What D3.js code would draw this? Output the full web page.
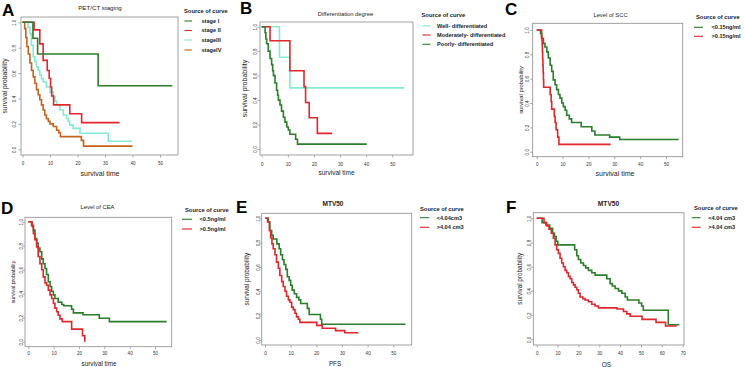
<!DOCTYPE html>
<html>
<head>
<meta charset="utf-8">
<script src="https://cdn.jsdelivr.net/npm/d3@7"></script>
<style>
  body { margin: 0; background: #fff; }
  svg { display: block; }
</style>
</head>
<body>
<script>
// ---- data: Kaplan-Meier steps as [time, survival] ----
// A: PET/CT staging
const stageI = [[0,1],[3.8,0.875],[5.5,0.75],[27.5,0.5],[54.5,0.5]];
const stageII = [[0,1],[4.2,0.94],[6.3,0.83],[7.5,0.70],[9,0.62],[9.7,0.56],[10.2,0.49],[10.6,0.42],[11.3,0.35],[17.2,0.28],[21.5,0.21],[35.3,0.21]];
const stageIII = [[0,1],[2,0.96],[2.7,0.91],[3.2,0.82],[3.9,0.73],[4.5,0.69],[5.1,0.65],[5.7,0.62],[6.3,0.585],[6.9,0.555],[7.5,0.53],[8.7,0.49],[10,0.45],[11.2,0.415],[11.8,0.38],[12.4,0.35],[13.6,0.31],[14.8,0.27],[16,0.245],[16.6,0.22],[17.2,0.19],[18.4,0.165],[20.9,0.126],[31.2,0.063],[39.7,0.063]];
const stageIV = [[0,1],[0.8,0.95],[1.2,0.88],[1.6,0.81],[2.1,0.75],[2.7,0.68],[3.3,0.62],[3.9,0.57],[4.5,0.52],[5.1,0.47],[5.7,0.43],[6.3,0.39],[6.9,0.35],[7.5,0.31],[8.1,0.27],[8.7,0.24],[9.4,0.22],[10,0.20],[11.2,0.18],[12.4,0.15],[13.2,0.13],[13.8,0.10],[21.4,0.07],[22.2,0.025],[40,0.025]];

// B: differentiation degree
const wellDiff = [[0,1],[6.8,0.75],[10.8,0.5],[54.6,0.5]];
const modDiff = [[0,1],[3.2,0.885],[10.8,0.64],[16.2,0.51],[16.8,0.38],[18.2,0.255],[21.3,0.128],[27,0.128]];
const poorDiff = [[0,1],[1.3,0.95],[1.6,0.90],[1.9,0.86],[2.5,0.80],[3.2,0.74],[3.8,0.69],[4.2,0.64],[4.5,0.60],[5.1,0.54],[5.7,0.48],[6.1,0.44],[6.4,0.40],[7,0.36],[7.6,0.31],[8.3,0.26],[8.9,0.22],[9.6,0.18],[10.2,0.155],[10.8,0.12],[13,0.08],[13.7,0.04],[40.2,0.04]];

// C: level of SCC
const sccLow = [[0,1],[1.5,0.97],[1.9,0.93],[2.6,0.89],[3.2,0.86],[3.9,0.82],[4.5,0.77],[5.2,0.71],[5.8,0.66],[6.4,0.59],[7.1,0.55],[7.7,0.51],[8.4,0.47],[9,0.44],[9.7,0.40],[10.3,0.37],[11,0.34],[11.6,0.30],[12.6,0.27],[13.5,0.24],[17.2,0.205],[21.3,0.17],[22.5,0.137],[28.2,0.12],[32.1,0.10],[54.9,0.10]];
const sccHigh = [[0,1],[1.9,0.94],[2.1,0.88],[2.2,0.82],[2.3,0.76],[2.4,0.71],[2.5,0.65],[2.6,0.59],[2.7,0.53],[5.2,0.47],[5.6,0.41],[5.8,0.35],[6.8,0.29],[7.1,0.24],[7.5,0.18],[8.1,0.12],[8.6,0.06],[28.6,0.06]];

// D: level of CEA
const ceaLow = [[0,1],[1.3,0.97],[2,0.93],[2.6,0.86],[3.3,0.82],[3.9,0.78],[4.6,0.75],[5.3,0.69],[5.9,0.65],[6.6,0.61],[7.2,0.56],[7.9,0.50],[8.6,0.46],[9.2,0.42],[9.9,0.39],[10.5,0.36],[11.8,0.33],[13.2,0.31],[14,0.30],[17.1,0.27],[17.8,0.24],[21.6,0.225],[28,0.195],[32,0.167],[54.6,0.167]];
const ceaHigh = [[0,1],[1.5,0.96],[2,0.90],[2.6,0.85],[3.3,0.79],[3.9,0.71],[4.6,0.65],[5.3,0.60],[5.9,0.54],[6.6,0.49],[7.2,0.47],[7.9,0.43],[8.6,0.39],[9.2,0.36],[9.9,0.32],[10.5,0.28],[11.2,0.25],[11.8,0.22],[12.5,0.19],[13.4,0.167],[17.1,0.105],[21.4,0.05],[22.3,0.0]];

// E: MTV50 (PFS)
const pfsLow = [[0,1],[1.3,0.97],[1.9,0.90],[2.6,0.86],[3.2,0.83],[4.6,0.79],[5.5,0.75],[6.1,0.70],[6.8,0.66],[7.4,0.62],[8.1,0.58],[8.7,0.52],[9.4,0.49],[10,0.45],[10.6,0.41],[11.4,0.38],[12.3,0.35],[13.2,0.33],[13.9,0.30],[16.5,0.26],[17.2,0.21],[21.6,0.17],[22.1,0.13],[54.8,0.13]];
const pfsHigh = [[0,1],[1,0.97],[1.7,0.90],[2.2,0.84],[2.7,0.79],[3.2,0.75],[3.9,0.70],[4.5,0.64],[5.2,0.59],[5.8,0.53],[6.5,0.48],[7.1,0.44],[7.8,0.40],[8.4,0.36],[9.1,0.33],[9.7,0.31],[10.4,0.27],[11,0.25],[11.7,0.22],[12.3,0.19],[13,0.17],[13.6,0.145],[20.2,0.12],[22.3,0.096],[27.5,0.077],[31.1,0.06],[36.4,0.06]];

// F: MTV50 (OS)
const osLow = [[0,1],[2.6,0.964],[4.4,0.945],[6.2,0.917],[7.6,0.876],[8.5,0.85],[9.3,0.81],[10.1,0.78],[18.2,0.74],[19.2,0.69],[20,0.66],[21.1,0.63],[22.4,0.61],[23.5,0.59],[24.8,0.57],[26.4,0.55],[28,0.53],[33.6,0.50],[35.2,0.46],[36.3,0.44],[37.6,0.42],[39.2,0.40],[40.8,0.38],[42.4,0.35],[43.5,0.325],[49,0.30],[50.3,0.275],[51.1,0.24],[63.1,0.12],[68.4,0.12]];
const osHigh = [[0,1],[3.5,0.964],[4.8,0.937],[5.9,0.91],[7,0.876],[8,0.835],[8.8,0.78],[9.6,0.74],[10.4,0.71],[11.2,0.67],[12,0.63],[12.8,0.60],[13.6,0.57],[14.4,0.55],[15.2,0.52],[16,0.50],[16.8,0.47],[17.6,0.45],[18.4,0.43],[19.2,0.41],[20,0.38],[20.8,0.35],[22.1,0.336],[23.2,0.325],[24.8,0.31],[26.4,0.29],[28,0.275],[29.6,0.26],[38.5,0.25],[41.6,0.23],[43.2,0.21],[44.8,0.19],[50.5,0.165],[57.2,0.14],[61.8,0.11],[67.1,0.11]];

const xTicks50 = [0, 10, 20, 30, 40, 50];
const xTicks70 = [0, 10, 20, 30, 40, 50, 60, 70];
const yTicks = [0, 0.2, 0.4, 0.6, 0.8, 1.0];

const GREEN = "#2a7d2a", RED = "#e2262b", CYAN = "#85ead4", ORANGE = "#c5621e";

// ---- layout of the six panels ----
const panels = [
  { letter: "A", lx: 2, ly: 15.5, title: "PET/CT staging", titleX: 100, titleY: 10, titleSize: 6.2, titleBold: false,
    box: [21, 17, 178, 155], xr: [22.5, 160], yr: [149.3, 22.3], xMax: 50, xTicks: xTicks50,
    xlab: "survival time", xlabX: 100, xlabY: 175.5, xlabSize: 7, ylabX: 5, ylabSize: 6.7, ytX: 14, xtY: 164.5,
    legend: { x: 184, ty: 13, lx0: 184.5, lx1: 192, tx: 201.5, ys: [21, 30.5, 40, 50] },
    series: [{ name: "stage I", data: stageI, color: GREEN }, { name: "stage II", data: stageII, color: RED },
             { name: "stageIII", data: stageIII, color: CYAN }, { name: "stageIV", data: stageIV, color: ORANGE }],
    order: [2, 3, 1, 0] },
  { letter: "B", lx: 240, ly: 13.5, title: "Differentiation degree", titleX: 345.5, titleY: 16, titleSize: 5.8, titleBold: false,
    box: [260, 22, 413, 155], xr: [261.7, 392.3], yr: [149, 26.7], xMax: 50, xTicks: xTicks50,
    xlab: "survival time", xlabX: 336.5, xlabY: 174.5, xlabSize: 6.5, ylabX: 245, ylabSize: 7, ytX: 255, xtY: 166,
    legend: { x: 421.5, ty: 17, lx0: 422.5, lx1: 430.5, tx: 437, ys: [25.7, 35, 44.3] },
    series: [{ name: "Well- differentiated", data: wellDiff, color: CYAN }, { name: "Moderately- differentiated", data: modDiff, color: RED },
             { name: "Poorly- differentiated", data: poorDiff, color: GREEN }],
    order: [0, 1, 2] },
  { letter: "C", lx: 505, ly: 15, title: "Level of SCC", titleX: 610.5, titleY: 17, titleSize: 5.8, titleBold: false,
    box: [532.7, 23.3, 682.7, 156.7], xr: [536.7, 666], yr: [151.7, 30], xMax: 50, xTicks: xTicks50,
    xlab: "survival time", xlabX: 615, xlabY: 175.5, xlabSize: 7, ylabX: 521, ylabSize: 5.8, ytX: 527.5, xtY: 166,
    legend: { x: 696, ty: 18.5, lx0: 694, lx1: 703, tx: 711.5, ys: [27.3, 36.3] },
    series: [{ name: "<0.15ng/ml", data: sccLow, color: GREEN }, { name: ">0.15ng/ml", data: sccHigh, color: RED }],
    order: [0, 1] },
  { letter: "D", lx: 1, ly: 213.5, title: "Level of CEA", titleX: 97.5, titleY: 209, titleSize: 5.8, titleBold: false,
    box: [25, 217.3, 171.7, 346.7], xr: [28.3, 155], yr: [341.7, 221.7], xMax: 50, xTicks: xTicks50,
    xlab: "survival time", xlabX: 99, xlabY: 365.5, xlabSize: 6.3, ylabX: 13, ylabSize: 5.2, ytX: 21, xtY: 355.5,
    legend: { x: 185, ty: 212, lx0: 182, lx1: 192, tx: 199.5, ys: [219.3, 229] },
    series: [{ name: "<0.5ng/ml", data: ceaLow, color: GREEN }, { name: ">0.5ng/ml", data: ceaHigh, color: RED }],
    order: [0, 1] },
  { letter: "E", lx: 236, ly: 213, title: "MTV50", titleX: 333, titleY: 206, titleSize: 6.5, titleBold: true,
    box: [261.7, 213.3, 411.7, 345], xr: [265, 393.3], yr: [340, 218.3], xMax: 50, xTicks: xTicks50,
    xlab: "PFS", xlabX: 335, xlabY: 366, xlabSize: 6.3, ylabX: 247, ylabSize: 6.4, ytX: 258.5, xtY: 354.5,
    legend: { x: 420, ty: 211.3, lx0: 420, lx1: 429.3, tx: 436.7, ys: [217.7, 227.3] },
    series: [{ name: "<4.04cm3", data: pfsLow, color: GREEN }, { name: ">4.04 cm3", data: pfsHigh, color: RED }],
    order: [0, 1] },
  { letter: "F", lx: 506, ly: 213, title: "MTV50", titleX: 608.5, titleY: 206, titleSize: 6.6, titleBold: true,
    box: [533.3, 212.7, 684, 345], xr: [536.7, 682.7], yr: [339.3, 218.3], xMax: 70, xTicks: xTicks70,
    xlab: "OS", xlabX: 606.5, xlabY: 367, xlabSize: 6.5, ylabX: 520, ylabSize: 6.3, ytX: 529.5, xtY: 355,
    legend: { x: 694, ty: 210.3, lx0: 691.7, lx1: 700.7, tx: 708.3, ys: [217.7, 227.3] },
    series: [{ name: "<4.04 cm3", data: osLow, color: GREEN }, { name: ">4.04 cm3", data: osHigh, color: RED }],
    order: [0, 1] }
];

const svg = d3.select("body").append("svg")
    .attr("width", 745)
    .attr("height", 367)
    .style("font-family", "'Liberation Sans', Arial, sans-serif");

panels.forEach(p => {
  const x = d3.scaleLinear().domain([0, p.xMax]).range(p.xr);
  const y = d3.scaleLinear().domain([0, 1]).range(p.yr);
  const g = svg.append("g");

  // panel letter
  g.append("text")
      .attr("x", p.lx).attr("y", p.ly)
      .attr("font-size", 17).attr("font-weight", "bold")
      .text(p.letter);

  // title
  g.append("text")
      .attr("x", p.titleX).attr("y", p.titleY)
      .attr("text-anchor", "middle")
      .attr("font-size", p.titleSize).attr("fill", "#222")
      .attr("font-weight", p.titleBold ? "bold" : "normal")
      .text(p.title);

  // curves
  const line = d3.line()
      .x(d => x(d[0]))
      .y(d => y(d[1]))
      .curve(d3.curveStepAfter);

  p.order.forEach(i => {
    const s = p.series[i];
    g.append("path")
        .attr("d", line(s.data))
        .attr("fill", "none")
        .attr("stroke", s.color)
        .attr("stroke-width", 1.6);
  });

  // box
  g.append("rect")
      .attr("x", p.box[0]).attr("y", p.box[1])
      .attr("width", p.box[2] - p.box[0]).attr("height", p.box[3] - p.box[1])
      .attr("fill", "none").attr("stroke", "#8a8a8a").attr("stroke-width", 0.8);

  // x axis
  const xa = g.append("g")
      .attr("transform", `translate(0,${p.box[3]})`)
      .call(d3.axisBottom(x).tickValues(p.xTicks).tickSize(2.5).tickSizeOuter(0).tickFormat(d3.format("d")));
  xa.select(".domain").remove();
  xa.selectAll("line").attr("stroke", "#8a8a8a").attr("stroke-width", 0.7);
  xa.selectAll("text")
      .attr("y", p.xtY - p.box[3]).attr("dy", 0)
      .attr("font-size", 4.6).attr("font-family", "'Liberation Sans', Arial, sans-serif").attr("fill", "#333");

  // y axis (labels rotated, R style)
  const ya = g.append("g")
      .attr("transform", `translate(${p.box[0]},0)`)
      .call(d3.axisLeft(y).tickValues(yTicks).tickSize(2.5).tickSizeOuter(0).tickFormat(d3.format(".1f")));
  ya.select(".domain").remove();
  ya.selectAll("line").attr("stroke", "#8a8a8a").attr("stroke-width", 0.7);
  ya.selectAll("text")
      .attr("x", 0).attr("dy", 0)
      .attr("text-anchor", "middle")
      .attr("transform", `translate(${p.ytX - p.box[0] + 1.6},0) rotate(-90)`)
      .attr("font-size", 4.6).attr("font-family", "'Liberation Sans', Arial, sans-serif").attr("fill", "#333");

  // axis labels
  g.append("text")
      .attr("x", p.xlabX).attr("y", p.xlabY)
      .attr("text-anchor", "middle")
      .attr("font-size", p.xlabSize).attr("fill", "#222")
      .text(p.xlab);

  const yMid = (p.box[1] + p.box[3]) / 2;
  g.append("text")
      .attr("transform", `translate(${p.ylabX + p.ylabSize * 0.35},${yMid}) rotate(-90)`)
      .attr("text-anchor", "middle")
      .attr("font-size", p.ylabSize).attr("fill", "#222")
      .text("survival probability");

  // legend
  const lg = p.legend;
  g.append("text")
      .attr("x", lg.x).attr("y", lg.ty)
      .attr("font-size", 5.8).attr("font-weight", "bold").attr("fill", "#222")
      .text("Source of curve");
  p.series.forEach((s, i) => {
    g.append("line")
        .attr("x1", lg.lx0).attr("x2", lg.lx1)
        .attr("y1", lg.ys[i]).attr("y2", lg.ys[i])
        .attr("stroke", s.color).attr("stroke-width", 1.1);
    g.append("text")
        .attr("x", lg.tx).attr("y", lg.ys[i]).attr("dy", "0.35em")
        .attr("font-size", 5.6).attr("font-weight", "bold").attr("fill", "#222")
        .text(s.name);
  });
});
</script>
</body>
</html>
